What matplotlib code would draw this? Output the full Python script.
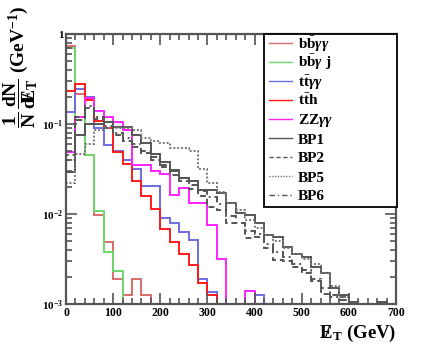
import numpy as np
import matplotlib
matplotlib.use('Agg')
import matplotlib.pyplot as plt
from matplotlib.lines import Line2D
from matplotlib.patches import Rectangle
from matplotlib.ticker import LogLocator, FixedLocator, NullFormatter, FuncFormatter

plt.rcParams['font.family'] = 'Liberation Serif'
plt.rcParams['font.weight'] = 'bold'
plt.rcParams['axes.labelweight'] = 'bold'
plt.rcParams['mathtext.fontset'] = 'custom'
plt.rcParams['mathtext.rm'] = 'Liberation Serif:bold'
plt.rcParams['mathtext.bf'] = 'Liberation Serif:bold'
plt.rcParams['mathtext.it'] = 'Liberation Serif:italic'

# missing ET bins (GeV), 20 GeV wide
edges = np.arange(0, 720, 20)

bbyy = [0.73, 0.215, 0.045, 0.0098, 0.0049, 0.0019, 0.00126, 0.0019, 0.00126]
bbyj = [0.70, 0.12, 0.045, 0.0108, 0.0038, 0.0023]
ttyy = [0.136, 0.245, 0.20, 0.09, 0.058, 0.05, 0.040, 0.032, 0.0205, 0.0205,
        0.009, 0.0079, 0.0063, 0.0052, 0.0019, 0.00135, 0, 0, 0, 0, 0.00126]
tth = [0.23, 0.28, 0.185, 0.107, 0.090, 0.049, 0.036, 0.0235, 0.016, 0.0115,
       0.0069, 0.0049, 0.0036, 0.0027, 0.0017, 0.00126]
zzyy = [0.049, 0.12, 0.195, 0.14, 0.12, 0.106, 0.085, 0.035, 0.035, 0.03,
        0.028, 0.0163, 0.0194, 0.0131, 0.0131, 0.0075, 0.0032, 0, 0, 0.0014]
bp1 = [0.029, 0.075, 0.10, 0.10, 0.105, 0.092, 0.092, 0.075, 0.062, 0.047,
       0.038, 0.031, 0.025, 0.023, 0.0185, 0.0185, 0.017, 0.0132, 0.0102, 0.0097,
       0.0079, 0.0058, 0.0055, 0.0043, 0.0036, 0.0033, 0.0026, 0.0022, 0.0015, 0.00126,
       0.00105, 0, 0, 0.00105, 0]
bp2 = [0.045, 0.12, 0.15, 0.115, 0.09, 0.075, 0.065, 0.056, 0.048, 0.04,
       0.033, 0.027, 0.023, 0.019, 0.016, 0.012, 0.011, 0.0079, 0.0079, 0.0054,
       0.0056, 0.0042, 0.0031, 0.003, 0.0026, 0.0022, 0.0018, 0.0013, 0.00126, 0.0012]
bp5 = [0.022, 0.047, 0.06, 0.085, 0.09, 0.09, 0.09, 0.085, 0.07, 0.065,
       0.061, 0.054, 0.054, 0.05, 0.032, 0.022, 0.0175, 0.0131, 0.011, 0.0085,
       0.007, 0.0058, 0.005, 0.0042, 0.0036, 0.0032, 0.0028, 0.0022, 0.0016, 0.0012]
bp6 = [0.04, 0.11, 0.16, 0.12, 0.095, 0.08, 0.07, 0.06, 0.05, 0.043,
       0.035, 0.03, 0.025, 0.021, 0.018, 0.0156, 0.013, 0.0095, 0.008, 0.0065,
       0.006, 0.0046, 0.0038, 0.0033, 0.0028, 0.0024, 0.0019, 0.0015, 0.0012, 0.0011]

labels = [r'$\mathrm{b\bar{b}}\gamma\gamma$', r'$\mathrm{b\bar{b}}\gamma\ \mathrm{j}$',
          r'$\mathrm{t\bar{t}}\gamma\gamma$', r'$\mathrm{t\bar{t}h}$',
          r'$\mathrm{ZZ}\gamma\gamma$', 'BP1', 'BP2', 'BP5', 'BP6']
series = [bbyy, bbyj, ttyy, tth, zzyy, bp1, bp2, bp5, bp6]
colors = ['#d86c6c', '#6cd86c', '#6c6ce0', '#ff1a1a', '#ff22ff',
          '#555555', '#555555', '#777777', '#555555']
styles = ['-', '-', '-', '-', '-', '-', (0, (3, 2)), (0, (1, 1)), (0, (4, 2, 1, 2))]

W, H = 441, 345
ymin = 1e-3
fig = plt.figure(figsize=(W / 100, H / 100), dpi=100)
ax = fig.add_axes([66 / W, 1 - 304 / H, 330 / W, 270 / H])

nb = len(edges) - 1
for vals, c, ls in zip(series, colors, styles):
    v = np.zeros(nb)
    v[:len(vals)] = vals
    v = np.where(v > 0, v, ymin)
    ax.stairs(v, edges, baseline=ymin, color=c, linestyle=ls, lw=1.4)

ax.set_yscale('log')
ax.set_xlim(0, 700)
ax.set_ylim(ymin, 1)

ax.xaxis.set_major_locator(FixedLocator(np.arange(0, 701, 100)))
ax.xaxis.set_minor_locator(FixedLocator(np.arange(0, 701, 20)))
ax.yaxis.set_major_locator(LogLocator(base=10, numticks=10))
ax.yaxis.set_minor_locator(LogLocator(base=10, subs=np.arange(2, 10), numticks=20))
ax.yaxis.set_minor_formatter(NullFormatter())


def yfmt(v, pos):
    if abs(v - 1) < 1e-9:
        return '1'
    return r'$\mathrm{10^{%d}}$' % int(round(np.log10(v)))


ax.yaxis.set_major_formatter(FuncFormatter(yfmt))
ax.tick_params(which='both', direction='in', top=True, right=True, colors='#555555',
               labelcolor='black', width=1.2)
ax.tick_params(axis='x', labelsize=8.5)
ax.tick_params(axis='y', labelsize=8)
ax.tick_params(which='major', length=8, pad=2)
ax.tick_params(which='minor', length=4)
for lbl in ax.get_xticklabels() + ax.get_yticklabels():
    lbl.set_fontweight('bold')
for s in ax.spines.values():
    s.set_color('#555555')
    s.set_linewidth(1.6)

ax.set_xlabel(r'$\mathrm{/\!\!\!\!E_T}$ (GeV)', fontsize=13.5, loc='right', labelpad=3)
fig.text(0.047, 0.985,
         r'$\mathrm{\dfrac{1}{N}\,\dfrac{dN}{d/\!\!\!\!E_T}}$ (GeV$^{\mathrm{-1}}$)',
         rotation=90, fontsize=14, ha='center', va='top')

# legend box, ROOT style
fig.add_artist(Rectangle((264 / W, 1 - 207 / H), 133 / W, 173 / H, transform=fig.transFigure,
                         facecolor='white', edgecolor='black', lw=1.3, zorder=5))
for i, (lab, c, ls) in enumerate(zip(labels, colors, styles)):
    yc = 1 - (43 + 19 * i) / H
    fig.add_artist(Line2D([269 / W, 292 / W], [yc, yc], transform=fig.transFigure,
                          color=c, linestyle=ls, lw=1.0, zorder=6))
    fig.text(298 / W, yc - 5.5 / H, lab, fontsize=11, ha='left', va='baseline', zorder=6)

fig.savefig('out.png', dpi=100)
